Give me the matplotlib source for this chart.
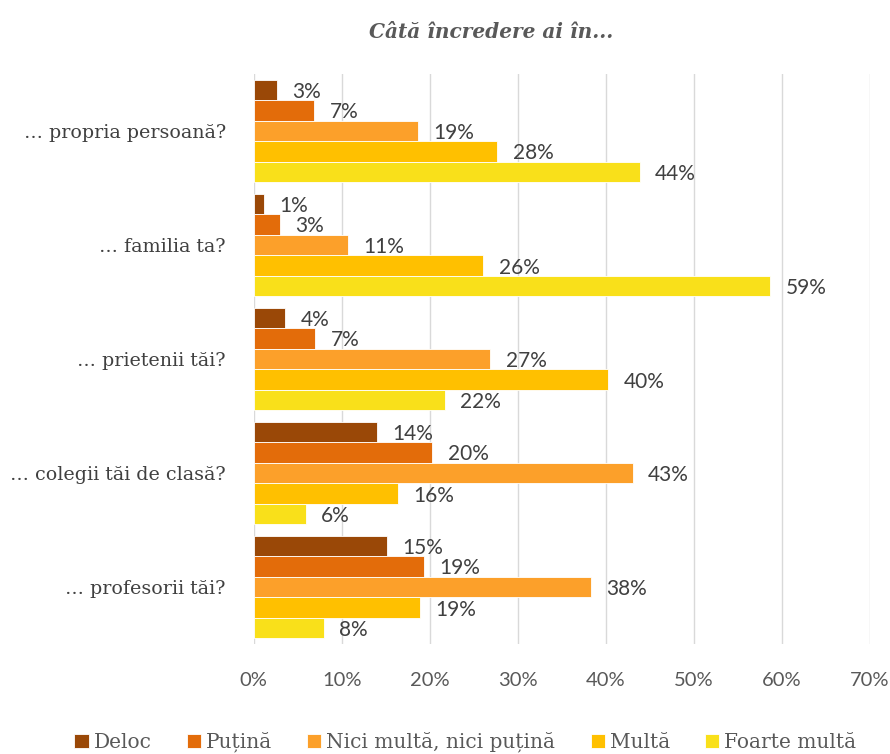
import numpy as np
import matplotlib.pyplot as plt

categories = ["… propria persoană?", "… familia ta?", "… prietenii tăi?",
              "… colegii tăi de clasă?", "… profesorii tăi?"]
series = ["Deloc", "Puțină", "Nici multă, nici puțină", "Multă", "Foarte multă"]
deloc = [2.6, 1.2, 3.6, 14.0, 15.1]
putina = [6.9, 3.0, 7.0, 20.3, 19.4]
nici = [18.7, 10.7, 26.9, 43.1, 38.3]
multa = [27.7, 26.1, 40.3, 16.4, 18.9]
foarte = [43.9, 58.7, 21.7, 5.9, 8.0]
colors = ["#9A4807", "#E36C0A", "#FCA02A", "#FFC000", "#F9E01A"]

values = [deloc, putina, nici, multa, foarte]

fig = plt.figure(figsize=(8.9, 7.54), dpi=100)
ax = fig.add_axes([0.285, 0.146, 0.692, 0.756])

y = np.arange(len(categories))
bar_h = 0.18
for j, (name, vals, col) in enumerate(zip(series, values, colors)):
    pos = y + (j - 2) * bar_h
    bars = ax.barh(pos, vals, height=bar_h, color=col, edgecolor="white",
                   linewidth=0.6, label=name, zorder=2)
    for b, v in zip(bars, vals):
        ax.annotate(f"{v:.0f}%", (b.get_width(), b.get_y() + b.get_height() / 2),
                    xytext=(11, -1.5), textcoords="offset points",
                    ha="left", va="center", fontsize=15, color="#404040",
                    family="Lato")

ax.set_xlim(0, 70)
ax.set_ylim(len(categories) - 0.5, -0.5)
ax.set_xticks(np.arange(0, 71, 10))
ax.set_xticklabels([f"{t}%" for t in range(0, 71, 10)], family="Lato",
                   fontsize=14.5, color="#595959")
ax.set_yticks(y)
ax.set_yticklabels(categories, family="DejaVu Serif", fontsize=13.7, color="#404040")
ax.tick_params(length=0, axis="y", pad=20)
ax.tick_params(length=0, axis="x", pad=20)
ax.grid(axis="x", color="#D9D9D9", linewidth=1, zorder=0)
for s in ax.spines.values():
    s.set_visible(False)

fig.text(0.552, 0.958, "Câtă încredere ai în...", ha="center", va="center",
         family="DejaVu Serif", fontsize=14.5, fontweight="bold",
         style="italic", color="#595959")

fig.legend(loc="lower center", bbox_to_anchor=(0.523, -0.022), ncol=5, frameon=False,
           handlelength=0.7, handleheight=0.7, handletextpad=0.25, columnspacing=1.75,
           prop={"family": "DejaVu Serif", "size": 14.5}, labelcolor="#595959")

fig.savefig("out.png", dpi=100)
